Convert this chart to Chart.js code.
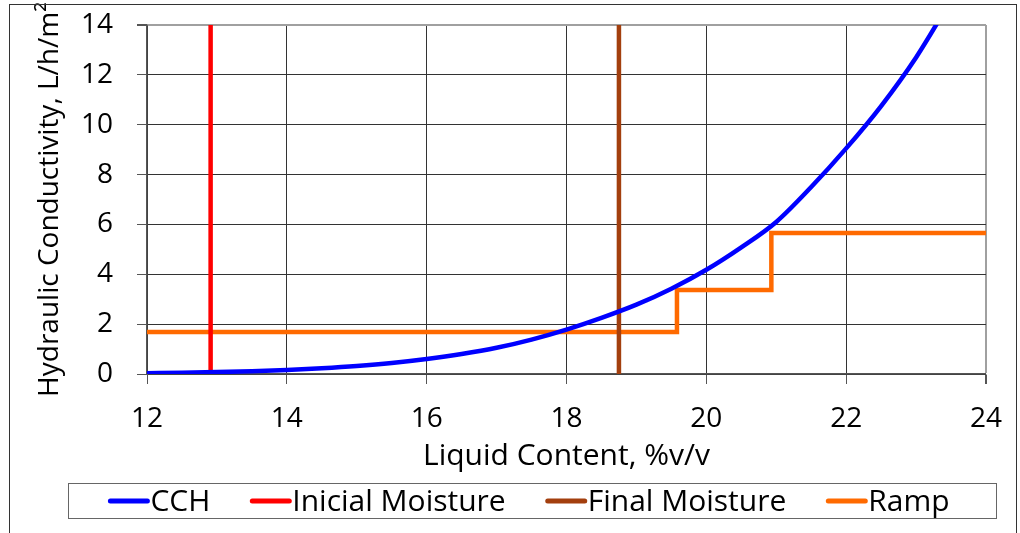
<!DOCTYPE html>
<html>
<head>
<meta charset="utf-8">
<title>Hydraulic Conductivity</title>
<script src="https://cdn.jsdelivr.net/npm/chart.js@4.4.1/dist/chart.umd.min.js"></script>
<style>
html, body { margin: 0; padding: 0; background: #fff; }
#wrap { width: 1020px; height: 533px; }
</style>
</head>
<body>
<div id="wrap"><canvas id="kChart" width="1020" height="533"></canvas></div>
<script>
// CCH curve: liquid content (%v/v) vs hydraulic conductivity (L/h/m2)
const contentX = [12, 12.5, 13, 13.5, 14, 14.5, 15, 15.5, 16, 16.5, 17, 17.5, 18, 18.5, 19, 19.5, 20, 20.5, 21, 21.5, 22, 22.5, 23, 23.5];
const cchK = [0.03, 0.05, 0.08, 0.11, 0.16, 0.23, 0.32, 0.44, 0.6, 0.8, 1.05, 1.38, 1.78, 2.25, 2.78, 3.42, 4.18, 5.08, 6.1, 7.5, 9.05, 10.75, 12.7, 15.0];

// moisture markers (vertical lines)
const inicialMoisture = 12.91;
const finalMoisture = 18.75;

// ramp (stepped)
const rampX = [12, 19.58, 20.93, 24];
const rampK = [1.68, 3.37, 5.66, 5.66];

// axis ticks
const xTicks = [12, 14, 16, 18, 20, 22, 24];
const yTicks = [0, 2, 4, 6, 8, 10, 12, 14];

const FONT = '"Open Sans"';

function pts(xs, ys) {
    return xs.map((x, i) => ({ x: x, y: ys[i] }));
}

// outer frame + legend box, drawn like the spreadsheet legend
const frameAndLegend = {
    id: 'frameAndLegend',
    afterDraw(chart) {
        const ctx = chart.ctx;
        ctx.save();
        ctx.strokeStyle = '#333';
        ctx.lineWidth = 1;
        ctx.strokeRect(9.5, 4.5, 1007, 560);

        ctx.strokeStyle = '#666';
        ctx.strokeRect(68.5, 483.5, 928, 35);

        ctx.font = '30px ' + FONT;
        const items = chart.data.datasets.map(ds => ({
            label: ds.label,
            color: ds.borderColor,
            w: ctx.measureText(ds.label).width
        }));
        const lineLen = 37, textGap = 3, itemGap = 42;
        let total = itemGap * (items.length - 1);
        items.forEach(it => { total += lineLen + textGap + it.w; });
        let x = 530 - total / 2;
        const midY = 501;
        items.forEach(it => {
            ctx.strokeStyle = it.color;
            ctx.lineWidth = 5;
            ctx.lineCap = 'round';
            ctx.beginPath();
            ctx.moveTo(x, midY);
            ctx.lineTo(x + lineLen, midY);
            ctx.stroke();
            x += lineLen + textGap;
            ctx.fillStyle = '#000';
            ctx.textBaseline = 'middle';
            ctx.textAlign = 'left';
            ctx.fillText(it.label, x, midY + 1);
            x += it.w + itemGap;
        });
        ctx.restore();
    }
};

const ctx = document.getElementById('kChart').getContext('2d');
new Chart(ctx, {
    type: 'line',
    data: {
        datasets: [
            {
                label: 'CCH',
                data: pts(contentX, cchK),
                borderColor: '#0000FF',
                borderWidth: 4.5,
                pointRadius: 0,
                cubicInterpolationMode: 'monotone'
            },
            {
                label: 'Inicial Moisture',
                data: pts([inicialMoisture, inicialMoisture], [yTicks[0], yTicks[yTicks.length - 1]]),
                borderColor: '#FF0000',
                borderWidth: 4.5,
                pointRadius: 0
            },
            {
                label: 'Final Moisture',
                data: pts([finalMoisture, finalMoisture], [yTicks[0], yTicks[yTicks.length - 1]]),
                borderColor: '#A33F0E',
                borderWidth: 4.5,
                pointRadius: 0
            },
            {
                label: 'Ramp',
                data: pts(rampX, rampK),
                borderColor: '#FF6A00',
                borderWidth: 4.5,
                pointRadius: 0,
                stepped: 'before'
            }
        ]
    },
    options: {
        responsive: false,
        animation: false,
        layout: { padding: { left: 20, right: 26, top: 25, bottom: 59 } },
        plugins: {
            legend: { display: false },
            tooltip: { enabled: false }
        },
        scales: {
            x: {
                type: 'linear',
                min: xTicks[0],
                max: xTicks[xTicks.length - 1],
                afterBuildTicks: s => { s.ticks = xTicks.map(v => ({ value: v })); },
                afterFit: s => { s.height = 100; },
                ticks: { color: '#000', font: { family: FONT, size: 28 }, padding: 18, maxRotation: 0 },
                grid: {
                    color: c => (c.tick && c.tick.value === 24) ? '#a0a0a0' : '#333',
                    lineWidth: c => (c.tick && c.tick.value === 24) ? 2 : 1,
                    tickLength: 10,
                    tickColor: '#555'
                },
                border: { color: '#555', width: 1.5 },
                title: {
                    display: true,
                    text: 'Liquid Content, %v/v',
                    color: '#000',
                    font: { family: FONT, size: 30 },
                    padding: { top: 0, bottom: 0 }
                }
            },
            y: {
                min: yTicks[0],
                max: yTicks[yTicks.length - 1],
                afterBuildTicks: s => { s.ticks = yTicks.map(v => ({ value: v })); },
                afterFit: s => { s.width = 127; s.paddingTop = 0; s.paddingBottom = 0; },
                ticks: { color: '#000', font: { family: FONT, size: 28 }, padding: 24 },
                grid: {
                    color: c => (c.tick && c.tick.value === 14) ? '#a0a0a0' : '#333',
                    lineWidth: c => (c.tick && c.tick.value === 14) ? 2 : 1,
                    tickLength: 10,
                    tickColor: '#555'
                },
                border: { color: '#555', width: 1.5 },
                title: {
                    display: true,
                    text: 'Hydraulic Conductivity, L/h/m²',
                    color: '#000',
                    font: { family: FONT, size: 28 },
                    padding: { top: 13, bottom: 0 }
                }
            }
        }
    },
    plugins: [frameAndLegend]
});
</script>
</body>
</html>
